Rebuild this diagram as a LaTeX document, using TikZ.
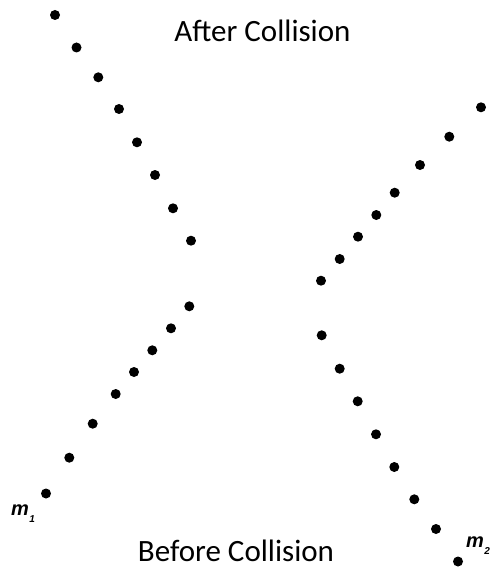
\documentclass[tikz,border=0pt]{standalone}
\usepackage{fontspec}
\setmainfont{Carlito}
\newfontfamily\labfont{Liberation Sans}
\newcommand{\masslab}[1]{m\kern0.5pt\raisebox{-7pt}{\fontsize{10}{12}\selectfont #1}}
\tikzset{
  dot/.style={circle,fill=black,inner sep=0pt,minimum size=10pt},
  title/.style={font=\fontsize{31}{37}\selectfont,anchor=base,inner sep=0pt},
  mass/.style={font=\labfont\bfseries\itshape\fontsize{20}{24}\selectfont,inner sep=0pt,anchor=base west}
}
\begin{document}
\begin{tikzpicture}[x=1pt,y=-1pt]
\useasboundingbox (0,0) rectangle (493,567);
% left track, after collision
\foreach \n/\x/\y in {1/55/15,2/76.5/47.5,3/98.3/77.3,4/119/109,5/137/142.3,6/155/175,7/173/208.3,8/191/240.7}
  \node[dot] (la\n) at (\x,\y) {};
% left track, before collision
\foreach \n/\x/\y in {1/189.3/306.3,2/171/328.3,3/152.3/350.3,4/134/372,5/115.7/394,6/92.7/423.7,7/69.3/457.7,8/46/493.5}
  \node[dot] (lb\n) at (\x,\y) {};
% right track, after collision
\foreach \n/\x/\y in {1/481/107.3,2/449.3/136.7,3/420/165,4/394.7/192.7,5/376.3/215,6/358/236.7,7/339.7/259,8/321/280.7}
  \node[dot] (ra\n) at (\x,\y) {};
% right track, before collision
\foreach \n/\x/\y in {1/321.7/335.3,2/339.7/368.7,3/357.7/401.3,4/376/434.3,5/394.3/467,6/414.3/499.3,7/436/529,8/458/561.5}
  \node[dot] (rb\n) at (\x,\y) {};
\node[title] (after) at (262.5,42) {After Collision};
\node[title] (before) at (236,561) {Before Collision};
\node[mass] (m1) at (11,515) {\masslab{1}};
\node[mass] (m2) at (466,547) {\masslab{2}};
\end{tikzpicture}
\end{document}
